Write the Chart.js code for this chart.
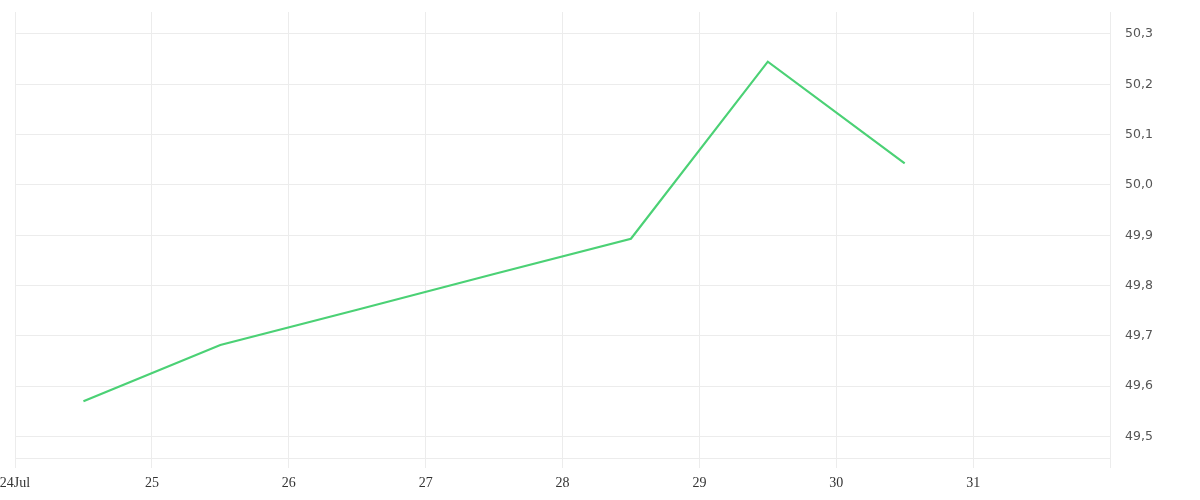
<!DOCTYPE html>
<html>
<head>
<meta charset="utf-8">
<style>
  html, body { margin: 0; padding: 0; background: #fff; }
  #wrap { width: 1200px; height: 500px; }
</style>
<script src="https://cdn.jsdelivr.net/npm/chart.js@4.4.1/dist/chart.umd.min.js"></script>
</head>
<body>
<div id="wrap"><canvas id="chart" width="1200" height="500"></canvas></div>
<script>
// July days, points sit at midday
const days = [24.5, 25.5, 26.5, 27.5, 28.5, 29.5, 30.5];
const values = [49.57, 49.682, 49.752, 49.823, 49.893, 50.245, 50.043];
const yTicks = [49.5, 49.6, 49.7, 49.8, 49.9, 50.0, 50.1, 50.2, 50.3];
const xTicks = [24, 25, 26, 27, 28, 29, 30, 31, 32];

const gridColor = '#ececec';

const ctx = document.getElementById('chart').getContext('2d');
new Chart(ctx, {
    type: 'line',
    data: {
        datasets: [{
            data: days.map((d, i) => ({ x: d, y: values[i] })),
            borderColor: '#4bd175',
            borderWidth: 2.2,
            pointRadius: 0,
            tension: 0,
            fill: false
        }]
    },
    options: {
        responsive: false,
        animation: false,
        layout: { padding: { top: 12, left: 15, right: 0, bottom: 0 } },
        plugins: { legend: { display: false }, tooltip: { enabled: false } },
        scales: {
            x: {
                type: 'linear',
                min: 24,
                max: 32,
                afterBuildTicks: s => { s.ticks = xTicks.map(v => ({ value: v })); },
                // keep the plot area where the reference has it
                afterFit: s => { s.height = 42; s.paddingLeft = 0; s.paddingRight = 0; },
                grid: { color: gridColor, tickLength: 10, tickColor: gridColor },
                border: { color: gridColor },
                ticks: {
                    autoSkip: false,
                    maxRotation: 0,
                    padding: 7,
                    color: '#333',
                    font: { family: 'Liberation Serif', size: 14 },
                    callback: v => v === 24 ? '24Jul' : (v === 32 ? '' : String(v))
                }
            },
            y: {
                position: 'right',
                min: 49.4573,
                max: 50.3437,
                afterBuildTicks: s => { s.ticks = yTicks.map(v => ({ value: v })); },
                afterFit: s => { s.width = 90; s.paddingTop = 0; s.paddingBottom = 0; },
                grid: { color: gridColor, drawTicks: false },
                border: { color: gridColor },
                ticks: {
                    padding: 15,
                    color: '#555',
                    font: { family: 'DejaVu Sans', size: 12.5 },
                    callback: v => v.toFixed(1).replace('.', ',')
                }
            }
        }
    }
});
</script>
</body>
</html>
